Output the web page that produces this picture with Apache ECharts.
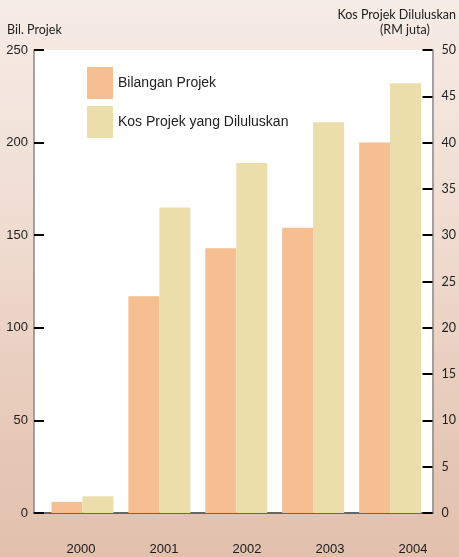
<!DOCTYPE html>
<html>
<head>
<meta charset="utf-8">
<script src="https://cdn.jsdelivr.net/npm/echarts@6/dist/echarts.min.js"></script>
<style>
html,body{margin:0;padding:0;}
#chart{width:459px;height:557px;background:linear-gradient(to bottom,#f6ece6 0%,#f0ddd2 40%,#e6c8b7 80%,#e2c0ad 100%);}
</style>
</head>
<body>
<div id="chart"></div>
<script>
var categories = ['2000', '2001', '2002', '2003', '2004'];
var bilanganProjek = [6, 117, 143, 154, 200];
var kosProjek = [1.8, 33.0, 37.8, 42.2, 46.4];
var leftTicks = {min: 0, max: 250, interval: 50};
var rightTicks = {min: 0, max: 50, interval: 5};
var seriesNames = ['Bilangan Projek', 'Kos Projek yang Diluluskan'];

var chart = echarts.init(document.getElementById('chart'), null, {renderer: 'canvas'});
var TOP = 50, BOTTOM = 44;
var armFont = '"Liberation Sans", Arial, sans-serif';
var myFont = 'Lato, "Open Sans", sans-serif';

chart.setOption({
  animation: false,
  backgroundColor: 'transparent',
  grid: [
    {left: 34, right: 23, top: TOP, bottom: BOTTOM, show: true, backgroundColor: '#ffffff', borderWidth: 0},
    {left: 44, right: 30.5, top: TOP, bottom: BOTTOM},
    {left: 39.5, right: 4.5, top: TOP, bottom: BOTTOM}
  ],
  legend: {
    orient: 'vertical', left: 87, top: 67, padding: 0,
    itemWidth: 26, itemHeight: 32, itemGap: 7,
    icon: 'rect',
    textStyle: {fontFamily: armFont, fontSize: 14, color: '#222'},
    data: seriesNames
  },
  xAxis: [
    {gridIndex: 0, type: 'category', data: categories, axisLine: {show: true, onZero: false, lineStyle: {color: '#666', width: 2}}, axisTick: {show: false}, axisLabel: {show: false}},
    {gridIndex: 1, type: 'category', data: categories, axisLine: {show: false}, axisTick: {show: false}, axisLabel: {show: false}},
    {gridIndex: 2, type: 'category', data: categories, axisLine: {show: false}, axisTick: {show: false},
     axisLabel: {show: true, margin: 30, fontFamily: armFont, fontSize: 13, color: '#1a1a1a'}}
  ],
  yAxis: [
    {gridIndex: 0, type: 'value', position: 'left', min: leftTicks.min, max: leftTicks.max, interval: leftTicks.interval,
     axisLine: {show: true, lineStyle: {color: '#888', width: 1.5}},
     axisTick: {show: true, inside: true, length: 10, lineStyle: {color: '#000', width: 2}},
     axisLabel: {margin: 6, fontFamily: armFont, fontSize: 13, color: '#222'},
     splitLine: {show: false}},
    {gridIndex: 0, type: 'value', position: 'right', min: rightTicks.min, max: rightTicks.max, interval: rightTicks.interval,
     axisLine: {show: true, lineStyle: {color: '#888', width: 1.5}},
     axisTick: {show: true, inside: true, length: 10, lineStyle: {color: '#000', width: 2}},
     axisLabel: {margin: 9, fontFamily: myFont, fontSize: 12.5, color: '#222'},
     splitLine: {show: false}},
    {gridIndex: 1, type: 'value', min: leftTicks.min, max: leftTicks.max,
     axisLine: {show: false}, axisTick: {show: false}, axisLabel: {show: false}, splitLine: {show: false}},
    {gridIndex: 1, type: 'value', min: rightTicks.min, max: rightTicks.max,
     axisLine: {show: false}, axisTick: {show: false}, axisLabel: {show: false}, splitLine: {show: false}},
    {gridIndex: 2, type: 'value', min: 0, max: 1,
     axisLine: {show: false}, axisTick: {show: false}, axisLabel: {show: false}, splitLine: {show: false}}
  ],
  graphic: [
    {type: 'text', left: 7, top: 23, style: {text: 'Bil. Projek', font: '12.5px ' + myFont, fill: '#222'}},
    {type: 'text', right: 3, top: 8, style: {text: 'Kos Projek Diluluskan', font: '12.5px ' + myFont, fill: '#222'}},
    {type: 'text', left: 380, top: 23, style: {text: '(RM juta)', font: '12.5px ' + myFont, fill: '#222'}}
  ],
  series: [
    {name: seriesNames[0], type: 'bar', xAxisIndex: 1, yAxisIndex: 2, data: bilanganProjek,
     barWidth: 31, barGap: '0%', itemStyle: {color: '#f6bf91'}},
    {name: seriesNames[1], type: 'bar', xAxisIndex: 1, yAxisIndex: 3, data: kosProjek,
     barWidth: 31, barGap: '0%', itemStyle: {color: '#ecdeab'}}
  ]
});
</script>
</body>
</html>
